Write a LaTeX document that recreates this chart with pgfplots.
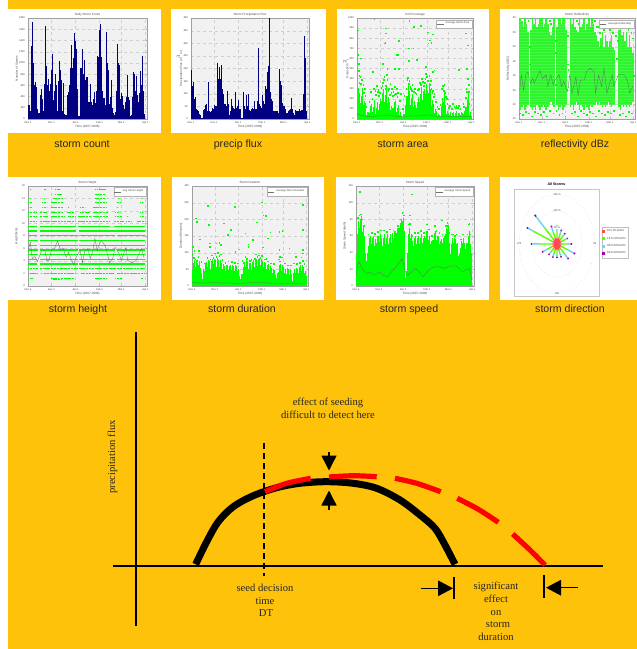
\documentclass[border=0pt]{standalone}
\usepackage{pgfplots}
\usepackage{fontspec}
\setmainfont{Liberation Sans}
\newfontfamily\serif{Liberation Serif}
\pgfplotsset{compat=1.18}
\usetikzlibrary{arrows.meta}
\definecolor{orangebg}{HTML}{FFC20A}
\definecolor{plotbg}{HTML}{F1F1F1}
\definecolor{navybar}{HTML}{000080}
\definecolor{scat}{HTML}{00FF00}
\definecolor{scatsoft}{HTML}{2CF52C}
\newcommand{\tinyf}{\fontsize{3.1}{3.6}\selectfont}
\newcommand{\ticksf}{\fontsize{2.6}{3}\selectfont}
\pgfplotsset{
  mini/.style={
    scale only axis, clip=true,
    /pgf/number format/assume math mode=true,
    /pgf/number format/1000 sep={},
    axis background/.style={fill=plotbg},
    axis line style={gray!75,line width=0.35pt},
    grid=major, grid style={dashed,gray!38,line width=0.25pt},
    major tick length=1pt, tick style={gray!60,line width=0.2pt},
    tick align=inside,
    xtick={0,30,61,92,120,151},
    xticklabels={Nov 1,Dec 1,Jan 1,Feb 1,Mar 1,Apr 1},
    xmin=0,xmax=153,
    tick label style={font=\ticksf,text=black!75},
    xticklabel style={yshift=0.6pt},
    yticklabel style={xshift=0.4pt},
    every axis y label/.style={at={(axis description cs:-0.095,0.5)},rotate=90,anchor=center,font=\tinyf,text=black!70},
    every axis x label/.style={at={(axis description cs:0.5,-0.08)},anchor=center,font=\tinyf,text=black!70},
    every axis title/.style={at={(axis description cs:0.5,1.033)},anchor=center,font=\tinyf,text=black!70},
    xlabel={Time (2007-2008)},
    legend style={font=\ticksf,text=black!75,at={(0.99,0.985)},anchor=north east,draw=gray!60,line width=0.2pt,inner sep=0.5pt,row sep=0pt,cells={anchor=west}},
    legend image code/.code={\draw[black!55,line width=0.2pt] (0pt,0pt) -- (6.5pt,0pt);},
  },
  core/.style={ycomb,no marks,scat,line width=1.6pt,forget plot},
  fuzz/.style={ycomb,no marks,scat,line width=0.5pt,forget plot},
  fringe/.style={only marks,mark=square*,mark size=0.3pt,scat,mark options={draw=none,fill=scat},forget plot},
  avg/.style={no marks,black!60,line width=0.28pt},
}
\begin{document}
\begin{tikzpicture}[x=1pt,y=1pt]
\clip (0,0) rectangle (637,649);
\fill[white] (0,0) rectangle (637,649);
\fill[orangebg] (8,0) rectangle (637,649);
% white panels (y measured from the page bottom)
\fill[white] (8,516) rectangle (161,640);
\fill[white] (171,516) rectangle (326,640);
\fill[white] (337,516) rectangle (489,640);
\fill[white] (500,516) rectangle (637,640);
\fill[white] (8,349) rectangle (161,472);
\fill[white] (172,349) rectangle (324,472);
\fill[white] (336,349) rectangle (489,472);
\fill[white] (500,349) rectangle (637,472);

% ---------- 1 storm count
\begin{axis}[mini,at={(28pt,530pt)},anchor=south west,width=119pt,height=101pt,
  ymin=0,ymax=1800,ytick={0,200,...,1800},title={Daily Storm Count},ylabel={Number of Storms}]
\addplot[ycomb,no marks,navybar,line width=0.85pt] coordinates {
(0,220)(1,250)(2,250)(3,150)(4,1130)(5,1300)(6,1730)(7,1000)(8,600)(9,570)(10,660)(11,570)(12,170)(13,100)(14,0)(15,100)(16,430)(17,530)(18,360)(19,120)(20,140)(21,630)(22,900)(23,1660)(24,950)(25,600)(26,720)(27,500)(28,400)(29,620)(30,880)(31,1150)(32,640)(33,340)(34,500)(35,800)(36,600)(37,520)(38,150)(39,680)(40,700)(41,1040)(42,880)(43,690)(44,140)(45,330)(46,640)(47,90)(48,80)(49,70)(50,60)(51,420)(52,480)(53,600)(54,880)(55,900)(56,1320)(57,900)(58,600)(59,1080)(60,1530)(61,1390)(62,1250)(63,530)(64,300)(65,60)(66,50)(67,600)(68,900)(69,900)(70,1245)(71,800)(72,500)(73,1060)(74,700)(75,740)(76,500)(77,740)(78,300)(79,300)(80,620)(81,300)(82,150)(83,250)(84,360)(85,300)(86,480)(87,290)(88,500)(89,1130)(90,1100)(91,1100)(92,1580)(93,1690)(94,1100)(95,840)(96,500)(97,380)(98,380)(99,250)(100,180)(101,1550)(102,1000)(103,880)(104,400)(105,270)(106,400)(107,690)(108,200)(109,150)(110,100)(111,80)(112,100)(113,130)(114,500)(115,1340)(116,1000)(117,960)(118,400)(119,360)(120,460)(121,300)(122,410)(123,250)(124,170)(125,300)(126,390)(127,300)(128,780)(129,400)(130,330)(131,150)(132,60)(133,80)(134,400)(135,830)(136,600)(137,810)(138,500)(139,770)(140,500)(141,420)(142,300)(143,460)(144,300)(145,860)(146,600)(147,1130)(148,500)(149,200)(150,90)};
\end{axis}

% ---------- 2 precip flux
\begin{axis}[mini,at={(191pt,530pt)},anchor=south west,width=118pt,height=101pt,
  ymin=0,ymax=400,ytick={0,50,...,400},title={Storm Precipitation Flux},ylabel={Precipitation Flux (m$^3$/s)}]
\addplot[ycomb,no marks,navybar,line width=0.85pt] coordinates {
(0,195)(1,175)(2,130)(3,145)(4,70)(5,80)(6,88)(7,40)(8,35)(9,30)(10,25)(11,20)(12,15)(13,5)(14,0)(15,5)(16,35)(17,40)(18,30)(19,55)(20,60)(21,30)(22,145)(23,100)(24,30)(25,28)(26,30)(27,30)(28,45)(29,40)(30,55)(31,50)(32,50)(33,50)(34,220)(35,150)(36,160)(37,205)(38,160)(39,190)(40,215)(41,120)(42,100)(43,60)(44,55)(45,60)(46,50)(47,110)(48,60)(49,40)(50,15)(51,30)(52,80)(53,50)(54,50)(55,45)(56,40)(57,105)(58,60)(59,45)(60,50)(61,40)(62,75)(63,40)(64,40)(65,5)(66,0)(67,5)(68,105)(69,50)(70,40)(71,30)(72,95)(73,50)(74,100)(75,50)(76,35)(77,30)(78,40)(79,35)(80,45)(81,40)(82,70)(83,40)(84,30)(85,40)(86,70)(87,50)(88,283)(89,60)(90,50)(91,45)(92,60)(93,95)(94,70)(95,60)(96,80)(97,130)(98,120)(99,185)(100,185)(101,210)(102,400)(103,105)(104,80)(105,70)(106,40)(107,30)(108,30)(109,30)(110,30)(111,30)(112,30)(113,25)(114,25)(115,200)(116,150)(117,135)(118,65)(119,60)(120,50)(121,50)(122,40)(123,35)(124,25)(125,25)(126,30)(127,35)(128,30)(129,40)(130,85)(131,40)(132,25)(133,25)(134,15)(135,25)(136,35)(137,30)(138,30)(139,30)(140,35)(141,40)(142,30)(143,35)(144,35)(145,35)(146,100)(147,330)(148,240)(149,55)(150,30)};
\end{axis}

% ---------- 3 storm area
\begin{axis}[mini,at={(357pt,530pt)},anchor=south west,width=116pt,height=101pt,
  ymin=0,ymax=1000,ytick={0,100,...,1000},title={Cell Coverage},ylabel={Areas (km$^2$)}]
\addplot[core] coordinates {
(0,200)(2,240)(4,160)(6,210)(8,140)(10,110)(12,40)(14,15)(16,60)(18,90)(20,70)(22,120)(24,50)(26,110)(28,90)(30,130)(32,180)(34,210)(36,170)(38,230)(40,160)(42,110)(44,90)(46,70)(48,110)(50,120)(52,70)(54,90)(56,40)(58,15)(60,20)(62,50)(64,140)(66,230)(68,190)(70,140)(72,170)(74,120)(76,90)(78,110)(80,150)(82,170)(84,230)(86,190)(88,210)(90,250)(92,200)(94,260)(96,210)(98,130)(100,100)(102,60)(104,50)(106,30)(108,20)(110,30)(112,130)(114,170)(116,90)(118,50)(120,30)(122,40)(124,30)(126,40)(128,30)(130,50)(132,30)(134,30)(136,35)(138,30)(140,45)(142,70)(144,120)(146,180)(148,40)(150,30)};
\addplot[fuzz] coordinates {
(1,290)(3,260)(5,230)(7,310)(9,180)(11,160)(13,70)(15,40)(17,130)(19,150)(21,110)(23,190)(25,90)(27,170)(29,150)(31,200)(33,260)(35,300)(37,240)(39,320)(41,220)(43,170)(45,130)(47,110)(49,170)(51,180)(53,110)(55,140)(57,70)(59,30)(61,40)(63,90)(65,220)(67,340)(69,280)(71,210)(73,250)(75,180)(77,140)(79,170)(81,220)(83,250)(85,320)(87,280)(89,300)(91,350)(93,290)(95,360)(97,300)(99,190)(101,150)(103,100)(105,80)(107,50)(109,40)(111,70)(113,210)(115,250)(117,140)(119,80)(121,60)(123,70)(125,60)(127,70)(129,60)(131,80)(133,60)(135,60)(137,65)(139,60)(141,80)(143,110)(145,190)(147,260)(149,70)};
\addplot[fringe] coordinates {
(22.5,990)(69,975)(75,915)(84,925)(1,880)(38,900)(38,850)(93,860)(100,840)(96,780)(36,750)(37,755)(55,775)(69,800)(94,750)(98,755)(1,635)(52,635)(54,635)(68,700)(74,700)(143,850)(146,730)(2,550)(5,600)(21,470)(34,550)(40,500)(50,500)(55,500)(68,575)(79,590)(91,520)(100,470)(102,485)(134,490)(145,500)
(2,480)(4,420)(6,390)(8,340)(3,360)(10,300)(1,300)(22,300)(24,280)(18,270)(26,330)(28,290)(32,310)(34,360)(36,420)(38,330)(40,390)(42,300)(44,350)(46,300)(48,270)(50,320)(52,300)(54,260)(58,250)(62,230)(66,390)(68,350)(70,320)(72,280)(76,300)(78,250)(80,290)(84,340)(88,330)(90,400)(92,420)(94,380)(96,340)(98,300)(100,280)(102,250)(112,300)(114,280)(116,260)(118,200)(122,130)(126,150)(130,110)(136,100)(140,150)(144,300)(146,400)(147,270)(12,120)(14,60)(20,200)(16,170)(30,260)(60,100)(56,180)(108,100)(104,170)(106,120)(110,140)(134,130)(128,120)
(3,430)(5,350)(7,300)(9,260)(11,230)(25,240)(27,270)(29,230)(33,330)(35,390)(37,300)(39,440)(41,280)(43,240)(45,260)(47,230)(49,240)(51,250)(53,220)(65,300)(67,410)(69,380)(71,300)(73,340)(75,270)(77,260)(81,300)(83,360)(85,400)(87,370)(89,360)(91,450)(93,380)(95,430)(97,380)(99,260)(101,220)(103,170)(113,330)(115,340)(117,220)(119,150)(121,110)(125,100)(131,130)(133,110)(141,120)(143,210)(145,270)(147,340)(148,150)};
\addplot[avg] coordinates {(0,55)(3,40)(8,35)(14,25)(20,28)(28,30)(34,35)(40,38)(48,30)(56,25)(64,28)(72,32)(80,30)(88,35)(94,40)(100,32)(108,25)(116,30)(124,25)(134,24)(142,26)(150,28)};
\addlegendentry{Average Storm Area}
\end{axis}

% ---------- 4 reflectivity
\begin{axis}[mini,at={(519pt,530pt)},anchor=south west,width=116pt,height=101pt,unbounded coords=jump,
  ymin=25,ymax=60,ytick={25,30,...,60},title={Storm Reflectivity},ylabel={Reflectivity (dBZ)}]
\addplot[draw=none,no marks,forget plot,error bars/.cd,y dir=plus,y explicit,error mark=none,error bar style={scatsoft,line width=1.6pt}]
 table[x=d,y=lo,y error=span] {
d lo span
0 29 29
2 28 32
4 29 30
6 30 27
8 28 32
10 29 29
12 30 25
16 29 27
18 28 32
20 29 29
22 28 32
24 30 27
26 29 29
28 28 32
30 29 31
32 30 27
34 29 29
36 28 32
38 29 29
40 30 25
42 31 23
44 30 27
46 29 31
50 30 27
52 28 32
54 29 31
56 30 28
58 28 32
60 29 31
62 30 26
68 29 31
70 30 28
72 28 32
74 30 27
76 31 25
78 30 25
80 28 32
82 30 27
84 29 29
86 28 32
88 30 26
90 29 29
92 28 32
94 30 27
96 29 31
98 30 28
100 30 25
102 31 23
104 30 22
106 31 19
108 30 23
110 29 26
112 30 20
114 29 25
116 30 22
118 31 19
120 30 22
122 29 25
124 30 20
126 30 19
132 29 27
134 28 29
136 30 24
138 29 26
140 30 22
142 29 26
144 30 20
146 29 25
148 30 20
150 31 17
};
\addplot[no marks,white,opacity=0.13,line width=0.5pt,forget plot] coordinates {(0,26)(153,26)(0,nan)(0,27)(153,27)(0,nan)(0,28)(153,28)(0,nan)(0,29)(153,29)(0,nan)(0,30)(153,30)(0,nan)(0,31)(153,31)(0,nan)(0,32)(153,32)(0,nan)(0,33)(153,33)(0,nan)(0,34)(153,34)(0,nan)(0,35)(153,35)(0,nan)(0,36)(153,36)(0,nan)(0,37)(153,37)(0,nan)(0,38)(153,38)(0,nan)(0,39)(153,39)(0,nan)(0,40)(153,40)(0,nan)(0,41)(153,41)(0,nan)(0,42)(153,42)(0,nan)(0,43)(153,43)(0,nan)(0,44)(153,44)(0,nan)(0,45)(153,45)(0,nan)(0,46)(153,46)(0,nan)(0,47)(153,47)(0,nan)(0,48)(153,48)(0,nan)(0,49)(153,49)(0,nan)(0,50)(153,50)(0,nan)(0,51)(153,51)(0,nan)(0,52)(153,52)(0,nan)(0,53)(153,53)(0,nan)(0,54)(153,54)(0,nan)(0,55)(153,55)(0,nan)(0,56)(153,56)(0,nan)(0,57)(153,57)(0,nan)(0,58)(153,58)(0,nan)(0,59)(153,59)};
\addplot[fringe,mark size=0.4pt] coordinates {(1,27)(5,26.5)(9,27.5)(13,27)(17,26)(21,27.5)(25,27)(29,26.5)(33,27.5)(37,26)(41,28)(45,27)(49,28)(53,26.5)(57,27)(61,26)(69,27)(73,27.5)(77,26)(81,28)(85,27)(89,26.5)(93,27.5)(97,27)(101,26)(105,28)(109,27)(113,26.5)(117,27.5)(121,27)(125,28)(133,26.5)(137,27)(141,26)(145,27.5)(149,27)
(104,57)(106,55)(108,58)(110,59)(112,56)(114,58)(116,57)(118,59)(120,56)(122,58)(124,55)(126,57)(128,54)(130,52)(129,46)(136,58)(138,59)(140,57)(142,59)(144,56)(146,58)(148,55)(150,53)(14,50)(14,44)(48,48)(48,52)(48,37)(64,54)(65,42)(65,36)(64,44)(100,59)(102,57)(78,58)(76,59)(12,59)(40,59)(42,58)(151,40)};
\addplot[avg] coordinates {(1,35)(3,40.3)(6,35)(9,40.3)(12,41.4)(15,37.4)(18,39)(20,37.4)(25,40.3)(28,41.7)(31,39)(36,40.3)(38,36.3)(42,40.3)(45,36.9)(48,38.7)(53,40.3)(56,36.3)(59,38.1)(64,34.5)(67,40.3)(70,33.9)(75,39.6)(78,33.3)(81,38.5)(86,38.5)(89,41.4)(94,42.6)(99,41.4)(101,33.9)(105,40.3)(109,36.3)(112,42.6)(116,33.9)(123,40.3)(125,36.3)(131,40.3)(139,40.3)(144,37.4)(146,33.9)(150,36.3)};
\addlegendentry{Average Reflectivity}
\end{axis}

% ---------- 5 storm height
\begin{axis}[mini,at={(28pt,363pt)},anchor=south west,width=119pt,height=100pt,
  ymin=0,ymax=16,ytick={0,2,...,16},title={Storm Height},ylabel={Height (km)},unbounded coords=jump]
\addplot[no marks,scat,line width=1.25pt,forget plot] coordinates {
(0,3.5)(12,3.5)(0,nan)(15,3.5)(64,3.5)(0,nan)(66,3.5)(150,3.5)(0,nan)
(0,4.27)(12,4.27)(0,nan)(15,4.27)(64,4.27)(0,nan)(66,4.27)(112,4.27)(0,nan)(114,4.27)(150,4.27)(0,nan)
(0,5)(13,5)(0,nan)(15,5)(64,5)(0,nan)(66,5)(150,5)(0,nan)
(0,5.76)(13,5.76)(0,nan)(15,5.76)(64,5.76)(0,nan)(66,5.76)(112,5.76)(0,nan)(114,5.76)(150,5.76)(0,nan)
(0,6.5)(12,6.5)(0,nan)(15,6.5)(64,6.5)(0,nan)(66,6.5)(150,6.5)(0,nan)
(0,7.3)(13,7.3)(0,nan)(15,7.3)(64,7.3)(0,nan)(66,7.3)(150,7.3)(0,nan)
(0,8.05)(12,8.05)(0,nan)(15,8.05)(64,8.05)(0,nan)(66,8.05)(112,8.05)(0,nan)(114,8.05)(150,8.05)(0,nan)
(0,8.8)(12,8.8)(0,nan)(15,8.8)(62,8.8)(0,nan)(65,8.8)(150,8.8)(0,nan)
(0,9.5)(12,9.5)(0,nan)(15,9.5)(62,9.5)(0,nan)(64,9.5)(106,9.5)(0,nan)(110,9.5)(150,9.5)};
\addplot[no marks,scat,line width=1.15pt,dash pattern=on 1.2pt off 0.35pt,forget plot] coordinates {
(0,2.77)(12,2.77)(0,nan)(15,2.77)(64,2.77)(0,nan)(66,2.77)(150,2.77)(0,nan)
(3,2)(12,2)(0,nan)(20,2)(60,2)(0,nan)(68,2)(110,2)(0,nan)(115,2)(150,2)(0,nan)
(0,10.3)(11,10.3)(0,nan)(15,10.3)(27,10.3)(0,nan)(30,10.3)(48,10.3)(0,nan)(50,10.3)(61,10.3)(0,nan)(64,10.3)(82,10.3)(0,nan)(84,10.3)(105,10.3)(0,nan)(110,10.3)(122,10.3)(0,nan)(126,10.3)(133,10.3)(0,nan)(140,10.3)(150,10.3)(0,nan)
(0,11.1)(11,11.1)(0,nan)(15,11.1)(26,11.1)(0,nan)(30,11.1)(47,11.1)(0,nan)(52,11.1)(60,11.1)(0,nan)(64,11.1)(81,11.1)(0,nan)(84,11.1)(103,11.1)(0,nan)(112,11.1)(120,11.1)(0,nan)(127,11.1)(129,11.1)(0,nan)(144,11.1)(150,11.1)(0,nan)
(0,11.8)(11,11.8)(0,nan)(15,11.8)(24,11.8)(0,nan)(30,11.8)(45,11.8)(0,nan)(50,11.8)(58,11.8)(0,nan)(67,11.8)(79,11.8)(0,nan)(84,11.8)(103,11.8)(0,nan)(112,11.8)(118,11.8)(0,nan)(144,11.8)(148,11.8)(0,nan)
(0,12.6)(5,12.6)(0,nan)(18,12.6)(24,12.6)(0,nan)(30,12.6)(45,12.6)(0,nan)(51,12.6)(53,12.6)(0,nan)(67,12.6)(73,12.6)(0,nan)(84,12.6)(101,12.6)(0,nan)(114,12.6)(116,12.6)(0,nan)
(0,13.3)(5,13.3)(0,nan)(18,13.3)(24,13.3)(0,nan)(30,13.3)(45,13.3)(0,nan)(86,13.3)(101,13.3)(0,nan)(114,13.3)(120,13.3)(0,nan)(144,13.3)(148,13.3)(0,nan)
(2,14)(4,14)(0,nan)(20,14)(22,14)(0,nan)(32,14)(45,14)(0,nan)(86,14)(99,14)(0,nan)(116,14)(118,14)(0,nan)(145,14)(147,14)(0,nan)
(35,14.7)(43,14.7)(0,nan)(86,14.7)(99,14.7)(0,nan)
(2,15.5)(4,15.5)(0,nan)(21,15.5)(23,15.5)(0,nan)(35,15.5)(41,15.5)(0,nan)(86,15.5)(88,15.5)(0,nan)(89,15.5)(99,15.5)(0,nan)
(3,1.2)(7,1.2)(0,nan)(30,1.2)(38,1.2)(0,nan)(42,1.2)(58,1.2)(0,nan)(86,1.2)(100,1.2)(0,nan)(112,1.2)(120,1.2)(0,nan)(145,1.2)(148,1.2)(0,nan)
(32,1)(43,1)(0,nan)};
\addplot[avg] coordinates {(0,5.7)(3,7)(5.5,4.4)(9,4.7)(12,3.9)(15,4.9)(18,5.8)(22,5.7)(24,4.1)(27,4.1)(30,5.7)(34,6)(38,7.2)(42,5.7)(45,6.1)(49,4.6)(52,5.4)(55,4.4)(59,3.4)(61,4.4)(67,5.7)(70,3.7)(73,5.7)(77,6)(80,4.4)(83,5.4)(86,7.6)(89,5.7)(91,6.5)(94,7.3)(99,6.5)(102,5.2)(105,3.7)(109,4.4)(112,6.2)(117,5.2)(120,4.1)(126,6.2)(128,4.1)(134,3.7)(139,4.1)(142,5)(146,6)(149,4.6)};
\addlegendentry{Avg Storm Height}
\end{axis}

% ---------- 6 storm duration
\begin{axis}[mini,at={(192pt,363pt)},anchor=south west,width=116pt,height=100pt,
  ymin=0,ymax=300,ytick={0,50,...,300},title={Storm Duration},ylabel={Duration (Minutes)}]
\addplot[core] coordinates {
(0,50)(2,62)(4,58)(6,52)(8,62)(10,48)(12,38)(14,8)(16,46)(18,52)(20,58)(22,62)(24,52)(26,58)(28,66)(30,62)(32,58)(34,62)(36,58)(38,56)(40,50)(42,48)(44,44)(46,46)(48,48)(50,44)(52,48)(54,46)(56,44)(58,48)(60,44)(62,30)(64,5)(66,36)(68,50)(70,58)(72,56)(74,52)(76,50)(78,48)(80,52)(82,58)(84,62)(86,60)(88,58)(90,62)(92,58)(94,56)(96,52)(98,50)(100,46)(102,48)(104,44)(106,38)(108,38)(110,34)(112,10)(114,42)(116,48)(118,44)(120,40)(122,38)(124,36)(126,40)(128,32)(130,36)(132,15)(134,38)(136,40)(138,36)(140,38)(142,44)(144,46)(146,44)(148,40)(150,30)};
\addplot[fuzz] coordinates {
(1,70)(3,78)(5,72)(7,70)(9,76)(11,55)(13,20)(15,50)(17,68)(19,72)(21,78)(23,76)(25,74)(27,82)(29,80)(31,78)(33,84)(35,78)(37,78)(39,70)(41,66)(43,60)(45,62)(47,64)(49,60)(51,64)(53,62)(55,60)(57,64)(59,60)(61,52)(63,22)(65,12)(67,56)(69,70)(71,78)(73,74)(75,70)(77,68)(79,72)(81,78)(83,84)(85,82)(87,80)(89,84)(91,80)(93,76)(95,72)(97,68)(99,64)(101,66)(103,60)(105,54)(107,52)(109,48)(111,24)(113,40)(115,62)(117,66)(119,62)(121,56)(123,52)(125,54)(127,50)(129,50)(131,36)(133,30)(135,52)(137,54)(139,50)(141,56)(143,64)(145,62)(147,58)(149,46)};
\addplot[fringe] coordinates {
(5,203)(6,193)(10,140)(9,105)(21,241)(22,183)(23,128)(23,118)(32,128)(36,130)(38,123)(42,188)(51,168)(47,153)(56,238)(57,103)(62,110)(70,158)(74,125)(74,118)(80,138)(85,191)(92,251)(94,212)(97,210)(103,161)(100,143)(93,116)(115,108)(116,88)(115,163)(119,165)(128,113)(146,243)(146,168)(146,108)(146,98)(137,88)(0,93)(1,118)(3,105)
(2,85)(4,80)(6,75)(8,88)(12,72)(16,68)(20,85)(24,80)(26,92)(28,85)(30,98)(32,88)(34,100)(36,90)(38,95)(40,78)(44,70)(48,74)(52,72)(56,70)(60,68)(66,75)(68,70)(70,88)(72,82)(76,75)(78,78)(82,82)(84,95)(86,88)(88,92)(90,85)(92,90)(96,80)(98,82)(100,74)(104,68)(108,66)(114,80)(116,74)(118,86)(122,68)(126,62)(130,62)(134,68)(138,66)(142,70)(144,86)(146,76)(148,66)};
\addplot[avg] coordinates {(0,10)(10,9)(20,9)(30,10)(40,9)(50,9)(60,8)(70,9)(80,10)(90,10)(100,9)(110,8)(120,8)(130,8)(140,8)(150,8)};
\addlegendentry{Average Storm Duration}
\end{axis}

% ---------- 7 storm speed
\begin{axis}[mini,at={(356pt,363pt)},anchor=south west,width=118pt,height=100pt,
  ymin=0,ymax=120,ytick={0,20,...,120},title={Storm Speed},ylabel={Storm Speed (km/h)}]
\addplot[core] coordinates {
(0,40)(2,62)(4,70)(6,72)(8,65)(10,58)(12,40)(14,8)(16,48)(18,53)(20,50)(22,52)(24,48)(26,52)(28,50)(30,53)(32,50)(34,48)(36,52)(38,50)(40,53)(42,50)(44,55)(46,52)(48,58)(50,55)(52,63)(54,60)(56,70)(58,68)(60,78)(62,66)(64,10)(66,12)(68,62)(70,58)(72,44)(74,48)(76,52)(78,50)(80,52)(82,50)(84,54)(86,52)(88,50)(90,58)(92,62)(94,55)(96,50)(98,46)(100,55)(102,63)(104,55)(106,54)(108,50)(110,46)(112,52)(114,50)(116,62)(118,68)(120,54)(122,38)(124,50)(126,52)(128,48)(130,50)(132,25)(134,38)(136,45)(138,52)(140,46)(142,44)(144,52)(146,60)(148,50)(150,10)};
\addplot[fuzz] coordinates {
(1,58)(3,78)(5,80)(7,84)(9,72)(11,60)(13,30)(15,40)(17,58)(19,60)(21,58)(23,60)(25,56)(27,60)(29,60)(31,62)(33,58)(35,58)(37,62)(39,58)(41,62)(43,58)(45,62)(47,64)(49,66)(51,66)(53,70)(55,70)(57,76)(59,80)(61,82)(63,40)(65,18)(67,40)(69,70)(71,62)(73,54)(75,58)(77,60)(79,58)(81,60)(83,58)(85,62)(87,58)(89,60)(91,66)(93,66)(95,60)(97,54)(99,54)(101,64)(103,66)(105,60)(107,60)(109,54)(111,56)(113,58)(115,60)(117,70)(119,72)(121,52)(123,48)(125,58)(127,58)(129,56)(131,52)(133,36)(135,46)(137,54)(139,58)(141,52)(143,50)(145,60)(147,66)(149,40)};
\addplot[fringe] coordinates {
(5,113)(72,110)(70,85)(60,88)(111,79)(147,75)(119,72)(2,82)(4,85)(6,86)(8,80)(10,72)(16,62)(20,64)(24,63)(28,65)(32,67)(36,67)(40,65)(44,68)(48,67)(54,72)(58,80)(62,85)(68,74)(70,75)(72,60)(76,64)(80,64)(84,66)(88,64)(92,74)(94,68)(98,60)(102,72)(104,66)(108,64)(112,62)(116,72)(118,76)(120,64)(124,62)(126,62)(128,60)(130,62)(136,56)(138,62)(144,62)(146,74)(148,62)};
\addplot[avg] coordinates {(0,12)(3,29)(5,27)(9,19)(14,15)(18,17)(24,13)(31,17)(35,13)(41,11)(46,17)(52,23)(60,33)(63,19)(67,13)(72,17)(76,21)(80,19)(87,11)(92,17)(97,21)(102,23)(108,23)(114,21)(121,24)(130,24)(134,21)(138,17)(142,19)(147,21)(150,8)};
\addlegendentry{Average Storm Speed}
\end{axis}

% ---------- 8 storm direction
\begin{axis}[at={(514pt,352pt)},anchor=south west,scale only axis,width=85pt,height=107pt,
  xmin=-170.6,xmax=166.7,ymin=-160.6,ymax=163.6,
  axis line style={gray!45,line width=1pt},ticks=none,clip=false,unbounded coords=jump,
  every axis title/.style={at={(axis description cs:0.5,1.05)},anchor=center,font=\fontsize{3.6}{4}\selectfont\bfseries},
  title={All Storms},
  legend style={font=\fontsize{2.9}{3.2}\selectfont,text=black!75,at={(1.03,0.51)},anchor=west,draw=gray!50,line width=0.3pt,inner sep=0.5pt,row sep=-0.2pt,cells={anchor=west}},
  legend image code/.code={\fill[#1] (0pt,-0.7pt) rectangle (1.4pt,0.7pt);},
  ]
\draw[gray!70,line width=0.3pt,dotted] (axis cs:0,0) ellipse [x radius=50,y radius=50];
\draw[gray!70,line width=0.3pt,dotted] (axis cs:0,0) ellipse [x radius=100,y radius=100];
\draw[gray!70,line width=0.3pt,dotted] (axis cs:0,0) ellipse [x radius=150,y radius=150];
\addplot[no marks,red!70,line width=1.2pt] coordinates {(0,0)(0,20)(0,0)(7.7,18.5)(0,0)(14.1,14.1)(0,0)(18.5,7.7)(0,0)(20,0)(0,0)(18.5,-7.7)(0,0)(14.1,-14.1)(0,0)(7.7,-18.5)(0,0)(0,-20)(0,0)(-7.7,-18.5)(0,0)(-14.1,-14.1)(0,0)(-18.5,-7.7)(0,0)(-20,0)(0,0)(-18.5,7.7)(0,0)(-14.1,14.1)(0,0)(-7.7,18.5)};
\addlegendentry{0 to 15 km/hr}
\addplot[no marks,green!65!yellow,line width=1.4pt] coordinates {(0,20)(0,38)(0,nan)(7.7,18.5)(12.6,30.5)(0,nan)(14.1,14.1)(23.3,23.3)(0,nan)(18.5,7.7)(30.5,12.6)(0,nan)(20,0)(40,0)(0,nan)(18.5,-7.7)(44.4,-18.4)(0,nan)(14.1,-14.1)(29.7,-29.7)(0,nan)(7.7,-18.5)(12.3,-29.6)(0,nan)(0,-20)(0,-32)(0,nan)(-7.7,-18.5)(-12.3,-29.6)(0,nan)(-14.1,-14.1)(-24,-24)(0,nan)(-18.5,-7.7)(-38.8,-16.1)(0,nan)(-20,0)(-72,0)(0,nan)(-18.5,7.7)(-92.4,38.3)(0,nan)(-14.1,14.1)(-49.5,49.5)(0,nan)(-7.7,18.5)(-15.3,37)};
\addlegendentry{15 to 30 km/hr}
\addplot[no marks,cyan!55,line width=1.5pt] coordinates {(0,38)(0,50)(0,nan)(12.6,30.5)(16.5,39.7)(0,nan)(23.3,23.3)(29.7,29.7)(0,nan)(30.5,12.6)(38.8,16.1)(0,nan)(40,0)(54,0)(0,nan)(44.4,-18.4)(66.5,-27.6)(0,nan)(29.7,-29.7)(42.4,-42.4)(0,nan)(12.3,-29.6)(15.3,-37)(0,nan)(0,-32)(0,-39)(0,nan)(-12.3,-29.6)(-15.7,-37.9)(0,nan)(-24,-24)(-30.4,-30.4)(0,nan)(-38.8,-16.1)(-54.5,-22.6)(0,nan)(-72,0)(-100,0)(0,nan)(-92.4,38.3)(-114.6,47.5)(0,nan)(-49.5,49.5)(-83.4,83.4)(0,nan)(-15.3,37)(-21.1,50.8)};
\addlegendentry{30 to 60 km/hr}
\addplot[no marks,violet!75!magenta,line width=1.6pt] coordinates {(0,50)(0,56)(0,nan)(16.5,39.7)(18,43.4)(0,nan)(29.7,29.7)(32.5,32.5)(0,nan)(38.8,16.1)(42.5,17.6)(0,nan)(54,0)(60,0)(0,nan)(66.5,-27.6)(72.1,-29.9)(0,nan)(42.4,-42.4)(46,-46)(0,nan)(15.3,-37)(16.9,-40.7)(0,nan)(0,-39)(0,-43)(0,nan)(-15.7,-37.9)(-17.2,-41.6)(0,nan)(-30.4,-30.4)(-33.2,-33.2)(0,nan)(-54.5,-22.6)(-59.1,-24.5)(0,nan)(-100,0)(-104,0)(0,nan)(-114.6,47.5)(-120.1,49.8)(0,nan)(-83.4,83.4)(-88.4,88.4)(0,nan)(-21.1,50.8)(-23,55.4)};
\addlegendentry{60 to 90 km/hr}
\node[font=\ticksf,text=black!75,fill=white,inner sep=0.3pt] at (axis cs:0,50) {50 \%};
\node[font=\ticksf,text=black!75,fill=white,inner sep=0.3pt] at (axis cs:0,100) {100 \%};
\node[font=\ticksf,text=black!75,fill=white,inner sep=0.3pt] at (axis cs:0,150) {150 \%};
\node[font=\ticksf,text=black!75,fill=white,inner sep=0.3pt] at (axis cs:-150,0) {270};
\node[font=\ticksf,text=black!75,fill=white,inner sep=0.3pt] at (axis cs:150,0) {90};
\node[font=\ticksf,text=black!75,fill=white,inner sep=0.3pt] at (axis cs:0,-150) {180};
\end{axis}

% captions
\begin{scope}[every node/.style={font=\fontsize{10.6}{12}\selectfont,text=black!85,inner sep=0pt,anchor=base}]
\node at (82,501.7) {storm count};
\node at (238,501.7) {precip flux};
\node at (403,501.7) {storm area};
\node at (575,501.7) {reflectivity dBz};
\node at (78,336.3) {storm height};
\node at (242,336.3) {storm duration};
\node at (409,336.3) {storm speed};
\node at (570,336.3) {storm direction};
\end{scope}

% ---------- lower diagram, axis units are image pixels
\begin{axis}[at={(0pt,0pt)},anchor=south west,scale only axis,width=637pt,height=649pt,
  xmin=0,xmax=637,ymin=0,ymax=649,y dir=reverse,hide axis,clip=false,unbounded coords=jump]
\addplot[no marks,black,line width=1.6pt] coordinates {(135.7,332)(135.7,626)};
\addplot[no marks,black,line width=1.6pt] coordinates {(113,565.7)(603,565.7)};
\addplot[no marks,black,line width=1.6pt,dash pattern=on 6pt off 4pt] coordinates {(263.7,443)(263.7,576)};
\addplot[no marks,black,line width=7pt,line join=round,smooth,tension=0.55] coordinates {(195.7,564.3)(206.7,541.7)(218.3,521.7)(233.3,506.7)(253.3,495.7)(276.7,487.7)(300,483.3)(326.7,481.7)(353.3,483.3)(376.7,488.3)(400,500)(420,515)(435,528.3)(445,545)(455,564.3)};
\addplot[no marks,red,line width=5.2pt,smooth] coordinates {(265,491.7)(286.7,483.3)(310.7,478.3)};
\addplot[no marks,red,line width=5.2pt,smooth] coordinates {(329,477)(353.3,475.7)(376.7,476.7)};
\addplot[no marks,red,line width=5.2pt,smooth] coordinates {(395,478.3)(416.7,483.3)(440.7,491.7)};
\addplot[no marks,red,line width=5.2pt,smooth] coordinates {(457.3,498.3)(478.3,509.3)(498.3,522.3)};
\addplot[no marks,red,line width=5.2pt,smooth] coordinates {(512.7,534)(530,550)(545,565)};
\draw[line width=1.4pt,-{Triangle[width=15pt,length=15pt]}] (axis cs:329,452) -- (axis cs:329,470.5);
\draw[line width=1.4pt,-{Triangle[width=15pt,length=15pt]}] (axis cs:329,509.5) -- (axis cs:329,490.5);
\draw[line width=1.4pt,-{Triangle[width=15.5pt,length=15pt]}] (axis cs:420.7,588.3) -- (axis cs:453,588.3);
\draw[line width=1.4pt,-{Triangle[width=15.5pt,length=15pt]}] (axis cs:578,587.7) -- (axis cs:546,587.7);
\addplot[no marks,black,line width=1.6pt] coordinates {(453.7,576.7)(453.7,599.3)};
\addplot[no marks,black,line width=1.6pt] coordinates {(544,575)(544,598)};
\begin{scope}[every node/.style={font=\serif\fontsize{10.6}{12}\selectfont,text=black!85,inner sep=0pt,anchor=base}]
\node at (axis cs:328,405.3) {effect of seeding};
\node at (axis cs:328,418.3) {difficult to detect here};
\node[rotate=90,anchor=base] at (axis cs:115,457) {precipitation flux};
\node at (axis cs:265,591.3) {seed decision};
\node at (axis cs:265,604.3) {time};
\node at (axis cs:266,616.3) {DT};
\node at (axis cs:496,589.3) {significant};
\node at (axis cs:496,602.3) {effect};
\node at (axis cs:496,615.3) {on};
\node at (axis cs:498,627.3) {storm};
\node at (axis cs:496,640.3) {duration};
\end{scope}
\end{axis}
\end{tikzpicture}
\end{document}
